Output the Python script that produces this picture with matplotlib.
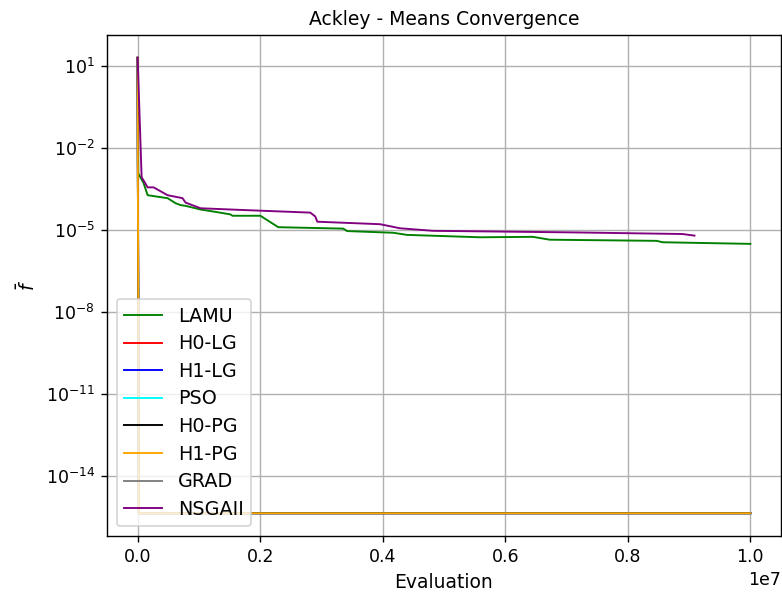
import matplotlib
matplotlib.use('Agg')
import matplotlib.pyplot as plt

# mean best fitness per evaluation count for each optimiser
lamu_evals = [0, 10000, 97700, 163000, 489000, 619000, 700000, 782000, 1026000, 1238000,
              1515000, 1547000, 2003000, 2296000, 3355000, 3420000, 4169000, 4397000,
              5586000, 6450000, 6726000, 8469000, 8567000, 10000000]
lamu_f = [19.6, 1.17e-3, 5.1e-4, 1.86e-4, 1.45e-4, 9.5e-5, 8.1e-5, 7.6e-5, 5.6e-5, 4.7e-5,
          3.7e-5, 3.3e-5, 3.3e-5, 1.26e-5, 1.12e-5, 9.1e-6, 7.9e-6, 6.6e-6,
          5.4e-6, 5.6e-6, 4.4e-6, 4.0e-6, 3.55e-6, 3.1e-6]

nsga_evals = [0, 65000, 163000, 261000, 489000, 733000, 782000, 1026000, 1678000,
              2818000, 2899000, 2932000, 3958000, 4283000, 4821000, 7183000, 8893000, 9088000]
nsga_f = [19.6, 8.5e-4, 3.6e-4, 3.6e-4, 1.86e-4, 1.45e-4, 1.0e-4, 6.2e-5, 5.4e-5,
          4.3e-5, 3.1e-5, 2.0e-5, 1.62e-5, 1.15e-5, 9.3e-6, 8.1e-6, 7.1e-6, 6.2e-6]

# the gradient / particle swarm variants all reach machine precision almost at once
pg_evals = [0, 3000, 20000, 10000000]
pg_f = [19.6, 6.0e-3, 4.44e-16, 4.44e-16]

series = [
    ('LAMU', lamu_evals, lamu_f, 'green'),
    ('H0-LG', pg_evals, pg_f, 'red'),
    ('H1-LG', pg_evals, pg_f, 'blue'),
    ('PSO', pg_evals, pg_f, 'cyan'),
    ('H0-PG', pg_evals, pg_f, 'black'),
    ('H1-PG', pg_evals, pg_f, 'orange'),
    ('GRAD', pg_evals, pg_f, 'gray'),
    ('NSGAII', nsga_evals, nsga_f, 'purple'),
]

fig = plt.figure(figsize=(7.82 / 1.25, 5.96 / 1.25), dpi=125)
ax = fig.add_axes([107 / 782, 1 - 536 / 596, (781 - 107) / 782, (536 - 35) / 596])

for name, xs, ys, color in series:
    z = 1.5 if name == 'GRAD' else 2
    ax.plot(xs, ys, color=color, linewidth=1.1, label=name, zorder=z)

ax.set_yscale('log')
ax.set_title('Ackley - Means Convergence', fontsize=10.8)
ax.set_xlabel('Evaluation', fontsize=10.8)
ax.set_ylabel(r'$\bar{f}$', fontsize=10.8)
ax.grid(True)
ax.legend(loc='lower left', fontsize=11, labelspacing=0.45)

fig.savefig('out.png', dpi=125)
